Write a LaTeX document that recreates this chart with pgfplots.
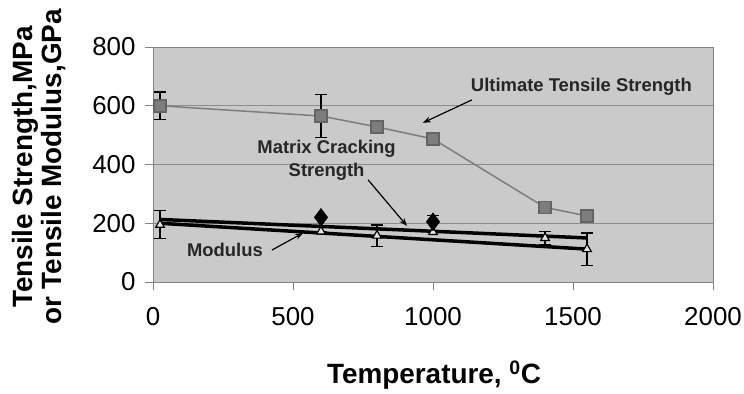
\documentclass[border=0pt]{standalone}
\usepackage{pgfplots}
\pgfplotsset{compat=1.18}
\usetikzlibrary{arrows.meta}
\usepackage{fontspec}
\setmainfont{Liberation Sans}
\definecolor{bg}{RGB}{202,202,202}
\definecolor{gridc}{RGB}{140,140,140}
\definecolor{framec}{RGB}{130,130,130}
\definecolor{utsc}{RGB}{125,125,125}
\begin{document}
\begin{tikzpicture}[x=1bp,y=1bp]
\path[use as bounding box] (0,0) rectangle (744,-393);
\begin{axis}[
  at={(153bp,-282bp)}, anchor=south west,
  scale only axis, width=560bp, height=235bp,
  xmin=0, xmax=2000, ymin=0, ymax=800,
  xtick={0,500,...,2000}, ytick={0,200,...,800},
  axis background/.style={fill=bg},
  ymajorgrids, grid style={gridc, line width=0.9bp},
  axis line style={framec, line width=0.9bp},
  tick style={framec, line width=0.9bp},
  tick align=outside, tick pos=left,
  major tick length=8bp,
  /pgf/number format/assume math mode=true,
  /pgf/number format/1000 sep={},
  ticklabel style={font=\fontsize{26}{28}\selectfont},
  yticklabel style={xshift=-6bp},
  xticklabel style={yshift=-14bp},
  clip=false,
]
% Ultimate tensile strength
\addplot[utsc, line width=1.5bp, mark=square*, mark size=6bp,
  mark options={fill=utsc, draw=utsc!80!black},
  error bars/.cd, y dir=both, y explicit,
  error bar style={black, line width=1.3bp},
  error mark options={black, rotate=90, mark size=6bp, line width=1.3bp}]
  coordinates {
  (25,600) +- (0,47)
  (600,565) +- (0,74)
  (800,528) +- (0,0)
  (1000,487) +- (0,0)
  (1400,254) +- (0,0)
  (1550,225) +- (0,0)
};
% fit lines
\addplot[black, line width=3.5bp] coordinates {(25,213) (1550,150)};
\addplot[black, line width=3.5bp] coordinates {(25,200) (1550,112)};
% modulus points
\addplot[only marks, mark=triangle*, mark size=5bp,
  mark options={fill=white!90!black, draw=black, line width=1.2bp},
  error bars/.cd, y dir=both, y explicit,
  error bar style={black, line width=1.3bp},
  error mark options={black, rotate=90, mark size=6bp, line width=1.3bp}]
  coordinates {
  (25,195) +- (0,48)
  (600,172) +- (0,0)
  (800,158) +- (0,36)
  (1000,170) +- (0,0)
  (1400,150) +- (0,22)
  (1550,112) +- (0,55)
};
% matrix cracking points
\addplot[only marks, mark=diamond*, mark size=9bp,
  mark options={fill=black, draw=black},
  error bars/.cd, y dir=plus, y explicit,
  error bar style={black, line width=1.3bp},
  error mark options={black, rotate=90, mark size=6bp, line width=1.3bp}]
  coordinates {
  (600,220) +- (0,0)
  (1000,205) +- (0,22)
};
% annotations
\node[font=\fontsize{18.5}{20}\bfseries\selectfont, text=black!85] at (axis cs:1530,663) {Ultimate Tensile Strength};
\draw[-{Stealth[length=8bp,width=6bp]}, line width=1.2bp] (axis cs:1139,620) -- (axis cs:964,542);
\node[font=\fontsize{18.5}{23}\bfseries\selectfont, text=black!85, align=center] at (axis cs:620,415) {Matrix Cracking\\Strength};
\draw[-{Stealth[length=8bp,width=6bp]}, line width=1.2bp] (axis cs:768,348) -- (axis cs:907,191);
\node[font=\fontsize{18.5}{20}\bfseries\selectfont, text=black!85] at (axis cs:257,109) {Modulus};
\draw[-{Stealth[length=8bp,width=6bp]}, line width=1.2bp] (axis cs:425,109) -- (axis cs:536,167);
\end{axis}
\node[font=\fontsize{28}{30}\bfseries\selectfont, anchor=base] at (434,-383) {Temperature, $^{\mathbf{0}}$C};
\node[font=\fontsize{28}{30}\bfseries\selectfont, rotate=90, align=center] at (39,-167) {Tensile Strength,MPa\\or Tensile Modulus,GPa};
\end{tikzpicture}
\end{document}
